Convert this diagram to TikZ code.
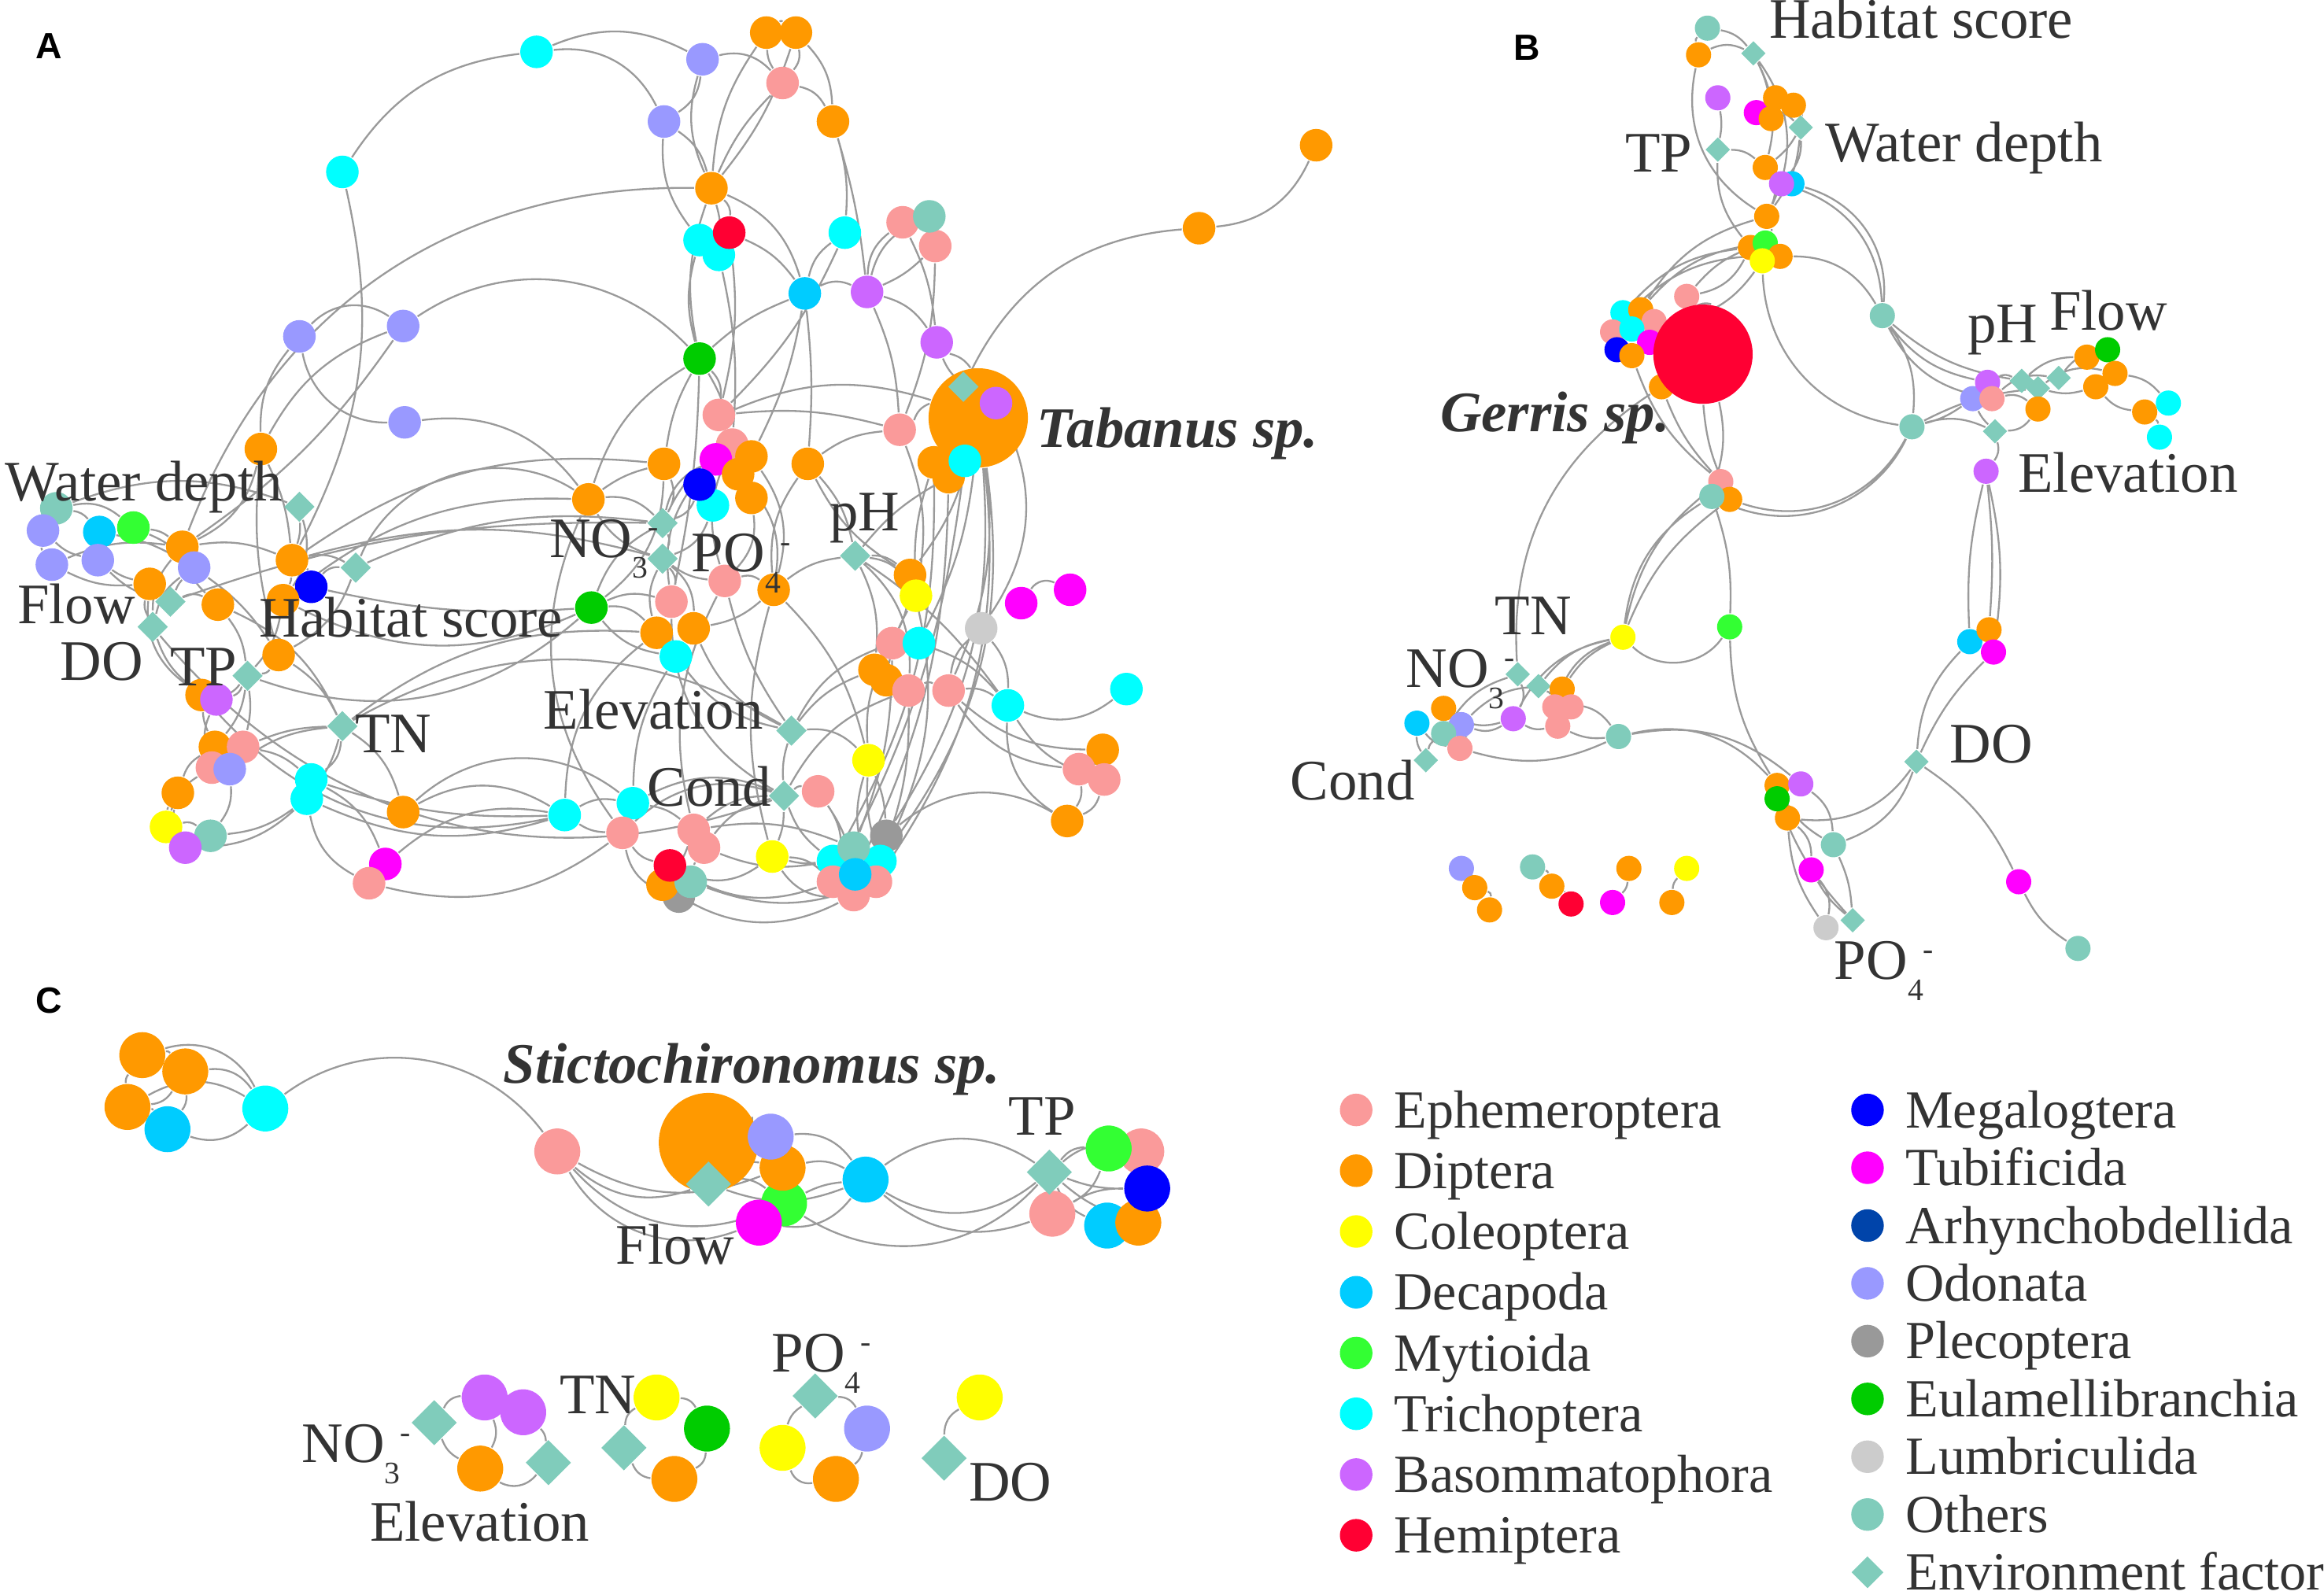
\documentclass[tikz,border=0pt]{standalone}
\usepackage{fontspec}
\setmainfont{Liberation Serif}
\setsansfont{Liberation Sans}
\usetikzlibrary{shapes.geometric,backgrounds}

% 颜色
\definecolor{eph}{HTML}{FA9A9A}
\definecolor{dip}{HTML}{FF9900}
\definecolor{col}{HTML}{FFFF00}
\definecolor{dec}{HTML}{00CCFF}
\definecolor{myt}{HTML}{33FF33}
\definecolor{tri}{HTML}{00FFFF}
\definecolor{bas}{HTML}{CC66FF}
\definecolor{hem}{HTML}{FF0033}
\definecolor{meg}{HTML}{0000FF}
\definecolor{tub}{HTML}{FF00FF}
\definecolor{arh}{HTML}{0044AA}
\definecolor{odo}{HTML}{9999FF}
\definecolor{ple}{HTML}{999999}
\definecolor{eul}{HTML}{00CC00}
\definecolor{lum}{HTML}{CCCCCC}
\definecolor{oth}{HTML}{80CCBB}
\definecolor{txt}{HTML}{333333}
\definecolor{lnk}{HTML}{9A9A9A}

% 离子标签
\newcommand{\chemion}[2]{#1\raisebox{-4pt}{\fontsize{6}{6}\selectfont #2}\raisebox{3.8pt}{\fontsize{6}{6}\selectfont -}}

\tikzset{
  spA/.style={circle,inner sep=0pt,minimum size=2.2mm},
  spB/.style={circle,inner sep=0pt,minimum size=1.7mm},
  spC/.style={circle,inner sep=0pt,minimum size=3.1mm},
  big/.style={circle,inner sep=0pt,minimum size=6.7mm},
  envA/.style={diamond,aspect=1,inner sep=0pt,minimum size=2.1mm,fill=oth},
  envB/.style={diamond,aspect=1,inner sep=0pt,minimum size=1.7mm,fill=oth},
  envC/.style={diamond,aspect=1,inner sep=0pt,minimum size=3.1mm,fill=oth},
  link/.style={draw=lnk,line width=0.35pt,bend left=25},
  lab/.style={text=txt,inner sep=0pt,anchor=base west,font=\fontsize{11}{13}\selectfont},
  taxon/.style={lab,font=\fontsize{11}{13}\selectfont\bfseries\itshape},
  legtext/.style={text=txt,inner sep=0pt,anchor=base west,font=\fontsize{10.3}{12}\selectfont},
  panel/.style={inner sep=0pt,font=\sffamily\bfseries\fontsize{7}{8}\selectfont},
}

\begin{document}
\begin{tikzpicture}[x=0.1mm,y=-0.1mm]
    \useasboundingbox (0,0) rectangle (1568,1076);

    % ---------------- A ----------------
    \node[panel] (pA) at (33,31) {A};
    % 上部
    \node[spA,fill=tri] (a1) at (362,35) {};
    \node[spA,fill=odo] (a2) at (474,40) {};
    \node[spA,fill=dip] (a3) at (517,22) {};
    \node[spA,fill=dip] (a4) at (537,22) {};
    \node[spA,fill=eph] (a5) at (528,56) {};
    \node[spA,fill=odo] (a6) at (448,82) {};
    \node[spA,fill=dip] (a7) at (562,82) {};
    \node[spA,fill=tri] (a8) at (231,116) {};
    \node[spA,fill=dip] (a9) at (480,127) {};
    \node[spA,fill=tri] (a10) at (472,162) {};
    \node[spA,fill=tri] (a12) at (485,172) {};
    \node[spA,fill=hem] (a11) at (492,157) {};
    \node[spA,fill=tri] (a13) at (570,157) {};
    \node[spA,fill=eph] (a14) at (609,150) {};
    \node[spA,fill=eph] (a16) at (631,166) {};
    \node[spA,fill=oth] (a15) at (627,146) {};
    \node[spA,fill=dec] (a17) at (543,198) {};
    \node[spA,fill=bas] (a18) at (585,197) {};
    \node[spA,fill=dip] (a19) at (888,98) {};
    \node[spA,fill=dip] (a20) at (809,154) {};
    \node[spA,fill=odo] (a21) at (202,227) {};
    \node[spA,fill=odo] (a22) at (272,220) {};
    \node[spA,fill=bas] (a23) at (632,231) {};
    \node[spA,fill=eul] (a24) at (472,242) {};
    \node[spA,fill=odo] (a25) at (273,285) {};
    \node[spA,fill=eph] (a30) at (485,280) {};
    \node[spA,fill=eph] (a31) at (607,290) {};
    \node[spA,fill=dip] (a32) at (176,303) {};
    % Tabanus
    \node[spA,fill=dip] (a43) at (630,312) {};
    \node[spA,fill=dip] (a44) at (640,322) {};
    \node[big,fill=dip] (a26) at (660,282) {};
    \node[envA] (a27) at (650,261) {};
    \node[spA,fill=bas] (a28) at (672,272) {};
    \node[spA,fill=tri] (a29) at (651,311) {};
    % 中部
    \node[spA,fill=eph] (a33) at (494,300) {};
    \node[spA,fill=tub] (a34) at (483,310) {};
    \node[spA,fill=dip] (a35) at (507,308) {};
    \node[spA,fill=dip] (a39) at (498,320) {};
    \node[spA,fill=dip] (a40) at (507,336) {};
    \node[spA,fill=dip] (a36) at (448,313) {};
    \node[spA,fill=dip] (a37) at (545,313) {};
    \node[spA,fill=tri] (a41) at (481,341) {};
    \node[spA,fill=meg] (a38) at (472,327) {};
    \node[spA,fill=dip] (a42) at (397,337) {};
    \node[envA] (a45) at (447,353) {};
    \node[envA] (a46) at (447,377) {};
    \node[spA,fill=eph] (a47) at (489,392) {};
    \node[spA,fill=dip] (a48) at (522,398) {};
    \node[envA] (a49) at (577,375) {};
    \node[spA,fill=eul] (a50) at (399,410) {};
    \node[spA,fill=eph] (a51) at (453,406) {};
    \node[spA,fill=dip] (a52) at (443,427) {};
    \node[spA,fill=dip] (a53) at (468,424) {};
    \node[spA,fill=tri] (a54) at (456,443) {};
    % 右部
    \node[spA,fill=dip] (a55) at (614,388) {};
    \node[spA,fill=col] (a56) at (618,402) {};
    \node[spA,fill=eph] (a57) at (602,434) {};
    \node[spA,fill=tri] (a58) at (620,434) {};
    \node[spA,fill=dip] (a59) at (590,452) {};
    \node[spA,fill=dip] (a60) at (598,459) {};
    \node[spA,fill=eph] (a61) at (613,466) {};
    \node[spA,fill=eph] (a62) at (640,466) {};
    \node[spA,fill=tri] (a63) at (680,476) {};
    \node[spA,fill=tri] (a64) at (760,465) {};
    \node[spA,fill=lum] (a65) at (662,424) {};
    \node[spA,fill=tub] (a66) at (689,407) {};
    \node[spA,fill=tub] (a67) at (722,398) {};
    \node[envA] (a68) at (534,493) {};
    \node[spA,fill=col] (a69) at (586,513) {};
    \node[spA,fill=dip] (a70) at (744,506) {};
    \node[spA,fill=eph] (a71) at (728,519) {};
    \node[spA,fill=eph] (a72) at (745,526) {};
    \node[spA,fill=dip] (a73) at (720,554) {};
    % 下部
    \node[envA] (a74) at (529,537) {};
    \node[spA,fill=eph] (a75) at (552,534) {};
    \node[spA,fill=tri] (a76) at (381,550) {};
    \node[spA,fill=tri] (a77) at (427,542) {};
    \node[spA,fill=eph] (a78) at (420,562) {};
    \node[spA,fill=eph] (a79) at (468,560) {};
    \node[spA,fill=eph] (a80) at (475,572) {};
    \node[spA,fill=ple] (a82) at (458,605) {};
    \node[spA,fill=dip] (a83) at (447,597) {};
    \node[spA,fill=oth] (a84) at (466,595) {};
    \node[spA,fill=hem] (a81) at (452,584) {};
    \node[spA,fill=col] (a85) at (521,578) {};
    \node[spA,fill=ple] (a86) at (598,564) {};
    \node[spA,fill=tri] (a87) at (562,581) {};
    \node[spA,fill=tri] (a88) at (594,581) {};
    \node[spA,fill=oth] (a89) at (576,572) {};
    \node[spA,fill=eph] (a90) at (562,595) {};
    \node[spA,fill=eph] (a91) at (591,595) {};
    \node[spA,fill=eph] (a92) at (576,604) {};
    \node[spA,fill=dec] (a93) at (577,590) {};
    % 左部
    \node[spA,fill=oth] (a94) at (38,343) {};
    \node[spA,fill=odo] (a95) at (29,358) {};
    \node[spA,fill=dec] (a96) at (67,359) {};
    \node[spA,fill=myt] (a97) at (90,356) {};
    \node[spA,fill=odo] (a98) at (35,381) {};
    \node[spA,fill=odo] (a99) at (66,378) {};
    \node[envA] (a100) at (202,342) {};
    \node[spA,fill=dip] (a101) at (123,369) {};
    \node[spA,fill=odo] (a102) at (131,383) {};
    \node[spA,fill=dip] (a103) at (197,378) {};
    \node[spA,fill=meg] (a104) at (210,396) {};
    \node[envA] (a105) at (240,383) {};
    \node[spA,fill=dip] (a106) at (101,394) {};
    \node[envA] (a107) at (115,406) {};
    \node[spA,fill=dip] (a108) at (147,408) {};
    \node[spA,fill=dip] (a109) at (191,405) {};
    \node[envA] (a110) at (103,423) {};
    \node[spA,fill=dip] (a111) at (188,442) {};
    \node[envA] (a112) at (167,456) {};
    \node[spA,fill=dip] (a113) at (136,469) {};
    \node[spA,fill=bas] (a114) at (146,472) {};
    \node[envA] (a115) at (231,490) {};
    \node[spA,fill=dip] (a116) at (145,504) {};
    \node[spA,fill=eph] (a117) at (164,504) {};
    \node[spA,fill=eph] (a118) at (143,518) {};
    \node[spA,fill=odo] (a119) at (155,519) {};
    \node[spA,fill=dip] (a120) at (120,535) {};
    \node[spA,fill=tri] (a121) at (210,526) {};
    \node[spA,fill=tri] (a122) at (207,539) {};
    \node[spA,fill=dip] (a123) at (272,548) {};
    \node[spA,fill=col] (a124) at (112,558) {};
    \node[spA,fill=oth] (a125) at (142,564) {};
    \node[spA,fill=bas] (a126) at (125,572) {};
    \node[spA,fill=tub] (a127) at (260,583) {};
    \node[spA,fill=eph] (a128) at (249,596) {};

    % A 标签
    \node[lab] (tA1) at (3,338) {Water depth};
    \node[lab] (tA2) at (11,421) {Flow};
    \node[lab] (tA3) at (40,459) {DO};
    \node[lab] (tA4) at (114,463) {TP};
    \node[lab] (tA5) at (174,430) {Habitat score};
    \node[lab] (tA6) at (239,508) {TN};
    \node[lab] (tA7) at (370,376) {\chemion{NO}{3}};
    \node[lab] (tA8) at (466,386) {\chemion{PO}{4}};
    \node[lab] (tA9) at (559,358) {pH};
    \node[lab] (tA10) at (366,492) {Elevation};
    \node[lab] (tA11) at (436,544) {Cond};
    \node[taxon] (tA12) at (699,302) {Tabanus sp.};

    % ---------------- B ----------------
    \node[panel] (pB) at (1030,32) {B};
    \node[spB,fill=oth] (b1) at (1152,19) {};
    \node[spB,fill=dip] (b2) at (1146,37) {};
    \node[envB] (b3) at (1183,36) {};
    \node[spB,fill=bas] (b4) at (1159,66) {};
    \node[spB,fill=tub] (b5) at (1185,76) {};
    \node[spB,fill=dip] (b6) at (1198,66) {};
    \node[spB,fill=dip] (b7) at (1210,71) {};
    \node[spB,fill=dip] (b8) at (1195,80) {};
    \node[envB] (b9) at (1215,86) {};
    \node[envB] (b10) at (1159,101) {};
    \node[spB,fill=dip] (b11) at (1191,113) {};
    \node[spB,fill=dec] (b13) at (1209,124) {};
    \node[spB,fill=bas] (b12) at (1202,124) {};
    \node[spB,fill=dip] (b14) at (1192,146) {};
    \node[spB,fill=dip] (b15) at (1181,167) {};
    \node[spB,fill=myt] (b16) at (1191,164) {};
    \node[spB,fill=dip] (b17) at (1201,173) {};
    \node[spB,fill=col] (b18) at (1189,176) {};
    \node[spB,fill=eph] (b19) at (1138,200) {};
    \node[spB,fill=tri] (b21) at (1095,211) {};
    \node[spB,fill=dip] (b22) at (1107,209) {};
    \node[spB,fill=eph] (b23) at (1116,217) {};
    \node[spB,fill=eph] (b24) at (1088,224) {};
    \node[spB,fill=tri] (b25) at (1101,222) {};
    \node[spB,fill=tub] (b26) at (1113,231) {};
    \node[spB,fill=meg] (b27) at (1091,236) {};
    \node[spB,fill=dip] (b28) at (1101,240) {};
    \node[spB,fill=dip] (b29) at (1121,261) {};
    \node[big,fill=hem] (b20) at (1149,239) {};
    \node[spB,fill=oth] (b30) at (1270,213) {};
    \node[spB,fill=oth] (b31) at (1290,288) {};
    \node[spB,fill=odo] (b32) at (1331,269) {};
    \node[spB,fill=bas] (b33) at (1341,258) {};
    \node[spB,fill=eph] (b34) at (1344,269) {};
    \node[envB] (b35) at (1364,257) {};
    \node[envB] (b36) at (1389,255) {};
    \node[envB] (b37) at (1375,262) {};
    \node[spB,fill=dip] (b38) at (1408,241) {};
    \node[spB,fill=eul] (b39) at (1422,236) {};
    \node[spB,fill=dip] (b40) at (1427,252) {};
    \node[spB,fill=dip] (b41) at (1414,261) {};
    \node[spB,fill=dip] (b42) at (1375,276) {};
    \node[envB] (b43) at (1346,291) {};
    \node[spB,fill=tri] (b44) at (1463,272) {};
    \node[spB,fill=dip] (b45) at (1447,278) {};
    \node[spB,fill=tri] (b46) at (1457,295) {};
    \node[spB,fill=bas] (b47) at (1340,318) {};
    \node[spB,fill=eph] (b48) at (1161,325) {};
    \node[spB,fill=dip] (b50) at (1167,337) {};
    \node[spB,fill=oth] (b49) at (1155,335) {};
    \node[spB,fill=col] (b51) at (1095,430) {};
    \node[spB,fill=myt] (b52) at (1167,423) {};
    \node[envB] (b53) at (1024,455) {};
    \node[envB] (b54) at (1038,463) {};
    \node[spB,fill=dip] (b55) at (1054,465) {};
    \node[spB,fill=eph] (b56) at (1049,477) {};
    \node[spB,fill=eph] (b57) at (1060,477) {};
    \node[spB,fill=eph] (b58) at (1051,490) {};
    \node[spB,fill=bas] (b59) at (1021,485) {};
    \node[spB,fill=dip] (b61) at (974,478) {};
    \node[spB,fill=dec] (b60) at (956,488) {};
    \node[spB,fill=odo] (b62) at (986,489) {};
    \node[spB,fill=oth] (b63) at (974,495) {};
    \node[spB,fill=eph] (b64) at (985,505) {};
    \node[envB] (b65) at (962,513) {};
    \node[spB,fill=oth] (b66) at (1092,497) {};
    \node[spB,fill=dec] (b67) at (1329,433) {};
    \node[spB,fill=dip] (b68) at (1342,425) {};
    \node[spB,fill=tub] (b69) at (1345,440) {};
    \node[envB] (b70) at (1293,514) {};
    \node[spB,fill=dip] (b71) at (1199,530) {};
    \node[spB,fill=dip] (b74) at (1206,552) {};
    \node[spB,fill=bas] (b72) at (1215,529) {};
    \node[spB,fill=eul] (b73) at (1199,539) {};
    \node[spB,fill=oth] (b75) at (1237,570) {};
    \node[spB,fill=tub] (b76) at (1222,587) {};
    \node[spB,fill=lum] (b77) at (1232,626) {};
    \node[envB] (b78) at (1250,621) {};
    \node[spB,fill=tub] (b79) at (1362,595) {};
    \node[spB,fill=oth] (b80) at (1402,640) {};
    % 孤立小组
    \node[spB,fill=odo] (b81) at (986,586) {};
    \node[spB,fill=dip] (b82) at (995,599) {};
    \node[spB,fill=dip] (b83) at (1005,614) {};
    \node[spB,fill=oth] (b84) at (1034,585) {};
    \node[spB,fill=dip] (b85) at (1047,598) {};
    \node[spB,fill=hem] (b86) at (1060,610) {};
    \node[spB,fill=dip] (b87) at (1099,586) {};
    \node[spB,fill=tub] (b88) at (1088,609) {};
    \node[spB,fill=col] (b89) at (1138,586) {};
    \node[spB,fill=dip] (b90) at (1128,609) {};

    % B 标签
    \node[lab] (tB1) at (1193,26) {Habitat score};
    \node[lab] (tB2) at (1231,109) {Water depth};
    \node[lab] (tB3) at (1096,116) {TP};
    \node[lab] (tB4) at (1327,231) {pH};
    \node[lab] (tB5) at (1382,223) {Flow};
    \node[taxon] (tB6) at (971,291) {Gerris sp.};
    \node[lab] (tB7) at (1361,332) {Elevation};
    \node[lab] (tB8) at (1008,428) {TN};
    \node[lab] (tB9) at (948,464) {\chemion{NO}{3}};
    \node[lab] (tB10) at (870,540) {Cond};
    \node[lab] (tB11) at (1315,515) {DO};
    \node[lab] (tB12) at (1237,661) {\chemion{PO}{4}};

    % ---------------- C ----------------
    \node[panel] (pC) at (33,675) {C};
    \node[spC,fill=dip] (c1) at (96,712) {};
    \node[spC,fill=dip] (c2) at (125,723) {};
    \node[spC,fill=dip] (c3) at (86,747) {};
    \node[spC,fill=dec] (c4) at (113,762) {};
    \node[spC,fill=tri] (c5) at (179,748) {};
    \node[spC,fill=eph] (c6) at (376,777) {};
    \node[big,fill=dip] (c7) at (478,771) {};
    \node[spC,fill=myt] (c10) at (529,812) {};
    \node[spC,fill=dip] (c9) at (528,788) {};
    \node[spC,fill=odo] (c8) at (520,767) {};
    \node[envC] (c12) at (478,799) {};
    \node[spC,fill=tub] (c11) at (512,825) {};
    \node[spC,fill=dec] (c13) at (584,796) {};
    \node[spC,fill=eph] (c16) at (770,777) {};
    \node[spC,fill=myt] (c15) at (748,775) {};
    \node[spC,fill=eph] (c18) at (710,819) {};
    \node[spC,fill=dec] (c19) at (747,827) {};
    \node[spC,fill=dip] (c20) at (768,825) {};
    \node[spC,fill=meg] (c17) at (774,802) {};
    \node[envC] (c14) at (708,791) {};
    % 下方小组
    \node[envC] (c21) at (293,960) {};
    \node[spC,fill=bas] (c22) at (327,943) {};
    \node[spC,fill=bas] (c23) at (353,953) {};
    \node[spC,fill=dip] (c24) at (324,991) {};
    \node[envC] (c25) at (370,987) {};
    \node[spC,fill=col] (c26) at (443,943) {};
    \node[spC,fill=eul] (c27) at (477,964) {};
    \node[envC] (c28) at (421,977) {};
    \node[spC,fill=dip] (c29) at (455,998) {};
    \node[envC] (c30) at (550,942) {};
    \node[spC,fill=odo] (c31) at (585,964) {};
    \node[spC,fill=col] (c32) at (528,977) {};
    \node[spC,fill=dip] (c33) at (564,998) {};
    \node[spC,fill=col] (c34) at (661,943) {};
    \node[envC] (c35) at (637,984) {};

    % C 标签
    \node[taxon] (tC1) at (339,731) {Stictochironomus sp.};
    \node[lab] (tC2) at (415,853) {Flow};
    \node[lab] (tC3) at (680,766) {TP};
    \node[lab] (tC4) at (203,987) {\chemion{NO}{3}};
    \node[lab] (tC5) at (249,1040) {Elevation};
    \node[lab] (tC6) at (377,954) {TN};
    \node[lab] (tC7) at (520,926) {\chemion{PO}{4}};
    \node[lab] (tC8) at (653,1013) {DO};

    % ---------------- 图例 ----------------
    \node[spA,fill=eph] (l1) at (915,749) {};  \node[legtext] (lt1) at (940,761) {Ephemeroptera};
    \node[spA,fill=dip] (l2) at (915,790) {};  \node[legtext] (lt2) at (940,802) {Diptera};
    \node[spA,fill=col] (l3) at (915,831) {};  \node[legtext] (lt3) at (940,843) {Coleoptera};
    \node[spA,fill=dec] (l4) at (915,872) {};  \node[legtext] (lt4) at (940,884) {Decapoda};
    \node[spA,fill=myt] (l5) at (915,913) {};  \node[legtext] (lt5) at (940,925) {Mytioida};
    \node[spA,fill=tri] (l6) at (915,954) {};  \node[legtext] (lt6) at (940,966) {Trichoptera};
    \node[spA,fill=bas] (l7) at (915,995) {};  \node[legtext] (lt7) at (940,1007) {Basommatophora};
    \node[spA,fill=hem] (l8) at (915,1036) {}; \node[legtext] (lt8) at (940,1048) {Hemiptera};
    \node[spA,fill=meg] (l9) at (1260,749) {};  \node[legtext] (lt9) at (1285,761) {Megalogtera};
    \node[spA,fill=tub] (l10) at (1260,788) {}; \node[legtext] (lt10) at (1285,800) {Tubificida};
    \node[spA,fill=arh] (l11) at (1260,827) {}; \node[legtext] (lt11) at (1285,839) {Arhynchobdellida};
    \node[spA,fill=odo] (l12) at (1260,866) {}; \node[legtext] (lt12) at (1285,878) {Odonata};
    \node[spA,fill=ple] (l13) at (1260,905) {}; \node[legtext] (lt13) at (1285,917) {Plecoptera};
    \node[spA,fill=eul] (l14) at (1260,944) {}; \node[legtext] (lt14) at (1285,956) {Eulamellibranchia};
    \node[spA,fill=lum] (l15) at (1260,983) {}; \node[legtext] (lt15) at (1285,995) {Lumbriculida};
    \node[spA,fill=oth] (l16) at (1260,1022) {}; \node[legtext] (lt16) at (1285,1034) {Others};
    \node[envA,minimum size=2.2mm] (l17) at (1260,1061) {}; \node[legtext] (lt17) at (1285,1073) {Environment factor};

    % ---------------- 连线 ----------------
    \begin{scope}[on background layer]
    % A 上部
    \draw[link] (a8) to (a1) (a1) to (a2) (a1) to[bend left=35] (a6) (a2) to (a6) (a2) to[bend left=30] (a5)
      (a10) to[bend left=20] (a6) (a6) to[bend left=20] (a9) (a2) to[bend right=20] (a9)
      (a3) to[bend left=40] (a4) (a9) to[bend left=15] (a3) (a4) to[bend left=10] (a9) (a3) to[bend right=15] (a5) (a4) to (a5)
      (a5) to (a7) (a4) to[bend left=20] (a7) (a5) to[bend right=10] (a9)
      (a7) to[bend left=10] (a13) (a7) to[bend left=5] (a18) (a9) to (a11) (a9) to[bend left=10] (a12)
      (a9) to[bend left=25] (a17) (a24) to[bend left=15] (a9) (a11) to[bend left=15] (a17) (a11) to[bend left=10] (a30)
      (a12) to[bend left=8] (a33) (a10) to[bend right=15] (a24) (a13) to[bend right=20] (a17) (a13) to[bend left=10] (a30)
      (a17) to (a18) (a17) to[bend right=10] (a24) (a17) to[bend left=8] (a35) (a17) to[bend left=5] (a37)
      (a18) to (a14) (a18) to (a15) (a18) to[bend right=10] (a16) (a18) to[bend left=20] (a23) (a18) to[bend left=10] (a31)
      (a14) to[bend left=10] (a23) (a16) to[bend left=10] (a31) (a23) to[bend left=20] (a26) (a23) to[bend right=10] (a27)
      (a19) to[bend left=30] (a20) (a27) to[bend left=30] (a20);
    % A 左上
    \draw[link] (a21) to[bend left=40] (a22) (a25) to[bend left=40] (a21) (a22) to[bend left=40] (a24)
      (a25) to[bend left=30] (a42) (a21) to[bend right=20] (a32) (a32) to[bend left=20] (a22) (a22) to[bend left=10] (a101)
      (a8) to[bend left=20] (a103) (a101) to[bend left=35] (a9) (a32) to[bend left=10] (a103) (a32) to (a101) (a32) to[bend right=10] (a111);
    % A 中部
    \draw[link] (a24) to[bend right=10] (a36) (a24) to (a30) (a24) to[bend left=10] (a33) (a24) to[bend right=20] (a42) (a24) to[bend left=5] (a51)
      (a36) to (a45) (a42) to[bend left=10] (a36) (a42) to (a45) (a42) to[bend right=20] (a46) (a45) to (a46)
      (a45) to[bend left=15] (a33) (a45) to (a34) (a46) to[bend right=15] (a47) (a46) to (a51) (a46) to[bend right=20] (a52) (a46) to (a53)
      (a47) to (a48) (a48) to[bend left=15] (a49) (a35) to (a48) (a37) to[bend right=20] (a48) (a49) to[bend left=20] (a55)
      (a49) to[bend right=15] (a37) (a49) to (a56) (a49) to[bend left=10] (a44) (a33) to[bend right=20] (a47) (a34) to[bend right=25] (a51)
      (a37) to[bend left=15] (a31) (a31) to (a26) (a30) to[bend left=10] (a31) (a38) to (a45) (a39) to (a48) (a40) to (a47) (a41) to (a46)
      (a50) to (a52) (a50) to[bend left=20] (a51) (a50) to[bend right=20] (a54) (a53) to[bend right=15] (a48) (a54) to[bend right=20] (a68)
      (a54) to[bend right=15] (a77) (a52) to[bend right=25] (a76) (a51) to[bend right=30] (a74) (a42) to[bend right=30] (a78)
      (a50) to[bend left=20] (a45) (a36) to[bend left=25] (a50);
    % A Elevation, Cond
    \draw[link] (a68) to (a69) (a68) to[bend left=15] (a59) (a68) to[bend right=10] (a74) (a68) to[bend left=20] (a57) (a47) to[bend right=10] (a68)
      (a53) to[bend right=20] (a68) (a74) to (a75) (a74) to[bend right=20] (a79) (a74) to[bend left=10] (a85) (a74) to[bend right=15] (a87)
      (a74) to[bend left=20] (a61) (a77) to[bend left=25] (a74) (a78) to[bend left=30] (a74) (a80) to[bend left=20] (a74)
      (a69) to[bend left=10] (a86) (a69) to[bend right=10] (a88) (a69) to[bend right=20] (a91) (a69) to[bend left=15] (a57)
      (a75) to (a90) (a75) to[bend left=10] (a93) (a85) to[bend right=10] (a87) (a85) to[bend left=20] (a90) (a85) to[bend left=30] (a81)
      (a76) to[bend left=20] (a77) (a76) to[bend right=15] (a78) (a77) to[bend left=15] (a79) (a78) to[bend right=20] (a81)
      (a79) to[bend left=10] (a83) (a80) to[bend right=10] (a84) (a81) to[bend left=25] (a84) (a78) to[bend right=30] (a82)
      (a86) to (a88) (a86) to[bend left=35] (a73) (a48) to[bend right=15] (a85) (a48) to[bend left=15] (a69) (a47) to[bend right=20] (a79)
      (a85) to[bend right=30] (a92) (a87) to[bend right=20] (a90) (a88) to[bend left=20] (a91)
      (a81) to[bend right=25] (a90) (a83) to[bend right=30] (a92) (a79) to[bend left=15] (a89) (a84) to[bend right=20] (a91)
      (a80) to[bend right=15] (a87) (a57) to[bend left=10] (a89) (a61) to[bend left=10] (a88) (a55) to[bend left=20] (a88);
    % A 右部
    \draw[link] (a55) to[bend right=10] (a26) (a56) to[bend left=10] (a43) (a57) to (a58) (a58) to[bend left=15] (a63) (a57) to (a59)
      (a59) to (a61) (a60) to[bend right=15] (a61) (a61) to (a62) (a62) to[bend left=20] (a63) (a63) to[bend right=30] (a64)
      (a62) to[bend right=20] (a70) (a62) to[bend right=25] (a71) (a63) to[bend right=20] (a72) (a63) to[bend right=30] (a73)
      (a70) to[bend left=20] (a71) (a71) to[bend left=20] (a73) (a72) to[bend left=25] (a73) (a65) to[bend left=20] (a63) (a65) to[bend right=20] (a62)
      (a66) to[bend left=40] (a67) (a26) to[bend left=10] (a58) (a26) to[bend left=15] (a62) (a26) to[bend left=20] (a91)
      (a26) to[bend left=22] (a88) (a26) to[bend left=18] (a86) (a43) to[bend left=15] (a87) (a44) to[bend left=12] (a93)
      (a29) to[bend left=10] (a90) (a49) to[bend left=15] (a59) (a49) to[bend left=25] (a61) (a49) to[bend left=10] (a63)
      (a55) to[bend left=10] (a57) (a56) to[bend right=10] (a60) (a28) to[bend left=30] (a65) (a31) to[bend left=15] (a56)
      (a37) to[bend right=15] (a55) (a30) to[bend left=20] (a26);
    % A 左部
    \draw[link] (a94) to[bend left=20] (a95) (a94) to[bend left=20] (a96) (a94) to[bend left=25] (a97) (a94) to[bend left=20] (a100)
      (a95) to[bend right=20] (a98) (a95) to[bend right=15] (a99) (a96) to (a99) (a97) to[bend left=15] (a101) (a97) to[bend left=10] (a102)
      (a98) to[bend right=15] (a106) (a99) to[bend right=15] (a107) (a96) to[bend left=10] (a102) (a98) to[bend left=15] (a101)
      (a99) to[bend right=10] (a106) (a100) to[bend left=10] (a103) (a100) to[bend left=25] (a109) (a101) to[bend left=15] (a103)
      (a101) to[bend right=15] (a108) (a102) to[bend right=10] (a107) (a102) to[bend right=20] (a110) (a103) to (a104) (a103) to[bend left=20] (a105)
      (a104) to (a105) (a106) to[bend right=20] (a110) (a107) to (a108) (a108) to[bend left=15] (a112) (a109) to[bend left=15] (a112)
      (a110) to[bend right=15] (a113) (a111) to (a112) (a111) to[bend right=20] (a105) (a112) to (a113) (a112) to (a114) (a112) to[bend left=15] (a116)
      (a112) to[bend left=10] (a117) (a113) to[bend right=10] (a116) (a114) to[bend right=20] (a118) (a115) to[bend right=10] (a117)
      (a115) to[bend right=15] (a119) (a115) to (a121) (a115) to[bend left=10] (a122) (a115) to[bend left=20] (a123) (a108) to[bend left=20] (a115)
      (a111) to[bend left=15] (a115) (a116) to[bend right=20] (a120) (a117) to[bend left=15] (a121) (a118) to[bend right=20] (a124)
      (a119) to[bend left=20] (a125) (a120) to[bend right=15] (a124) (a120) to[bend right=20] (a126) (a124) to (a125) (a125) to[bend right=15] (a122)
      (a126) to[bend right=20] (a122) (a121) to[bend left=20] (a127) (a122) to[bend right=25] (a128) (a127) to[bend left=30] (a128)
      (a101) to[bend right=20] (a110) (a106) to[bend right=30] (a113) (a102) to[bend left=10] (a111) (a103) to[bend left=10] (a109);
    % A 跨区
    \draw[link] (a105) to[bend left=50] (a42) (a104) to[bend right=8] (a50) (a103) to[bend left=15] (a46) (a109) to[bend right=25] (a50)
      (a112) to[bend right=30] (a50) (a123) to[bend left=40] (a77) (a122) to[bend right=20] (a76) (a127) to[bend left=25] (a76)
      (a115) to[bend left=30] (a68) (a115) to[bend left=20] (a52) (a128) to[bend right=25] (a78) (a107) to[bend left=10] (a45)
      (a103) to[bend left=20] (a36) (a110) to[bend right=35] (a74) (a113) to[bend right=30] (a76) (a105) to[bend left=15] (a45)
      (a109) to[bend left=20] (a42) (a121) to[bend right=10] (a76) (a123) to[bend left=30] (a76);

    % B
    \draw[link] (b1) to[bend left=20] (b3) (b2) to (b3) (b2) to[bend left=30] (b1) (b14) to[bend left=35] (b2) (b3) to[bend left=10] (b8) (b3) to[bend left=20] (b11) (b3) to[bend left=30] (b14)
      (b4) to[bend left=10] (b10) (b5) to (b9) (b6) to (b9) (b7) to (b9) (b9) to[bend left=15] (b14) (b9) to[bend left=10] (b11) (b9) to[bend left=20] (b12)
      (b10) to[bend left=20] (b11) (b15) to[bend left=20] (b10) (b11) to (b14) (b12) to[bend left=35] (b30) (b13) to[bend left=40] (b30) (b14) to (b16)
      (b15) to (b19) (b16) to[bend right=15] (b19) (b17) to[bend left=30] (b30) (b18) to[bend right=40] (b31) (b19) to (b20)
      (b21) to[bend left=20] (b15) (b22) to[bend left=20] (b16) (b24) to[bend left=25] (b17) (b18) to (b23) (b14) to[bend right=20] (b22)
      (b29) to[bend right=10] (b48) (b20) to[bend left=15] (b49) (b28) to[bend right=15] (b48) (b20) to[bend right=10] (b50)
      (b53) to[bend left=30] (b29);
    \draw[link] (b30) to[bend right=20] (b33) (b30) to[bend right=25] (b34) (b30) to[bend right=15] (b35) (b30) to[bend left=20] (b31) (b31) to[bend right=10] (b32) (b31) to[bend left=10] (b37) (b31) to[bend left=20] (b43)
      (b50) to[bend right=40] (b31) (b49) to[bend right=45] (b31) (b33) to (b35) (b34) to (b36) (b35) to[bend left=20] (b38) (b36) to[bend left=20] (b39) (b37) to (b40)
      (b37) to[bend right=15] (b41) (b41) to[bend right=20] (b45) (b40) to[bend left=20] (b44) (b45) to (b46) (b42) to (b43) (b43) to (b47) (b34) to (b42) (b32) to[bend right=10] (b43)
      (b47) to[bend left=5] (b68) (b47) to[bend right=8] (b67) (b47) to[bend left=10] (b69);
    \draw[link] (b49) to[bend left=10] (b52) (b50) to[bend right=15] (b51) (b48) to[bend right=20] (b51) (b49) to[bend right=25] (b51)
      (b51) to[bend right=20] (b54) (b51) to[bend right=15] (b55) (b51) to[bend right=25] (b56) (b51) to[bend right=25] (b59) (b52) to[bend right=15] (b71) (b51) to[bend right=50] (b52)
      (b53) to (b59) (b54) to[bend left=20] (b56) (b55) to[bend left=20] (b57) (b59) to (b61) (b59) to (b62) (b60) to[bend right=20] (b64) (b61) to (b63) (b62) to (b64)
      (b63) to[bend right=20] (b65) (b60) to[bend right=15] (b65) (b64) to[bend right=20] (b66) (b56) to[bend left=30] (b66) (b58) to[bend right=15] (b66)
      (b59) to[bend right=20] (b58) (b62) to[bend left=25] (b55) (b53) to[bend right=20] (b63)
      (b66) to[bend left=30] (b71) (b66) to[bend left=25] (b72) (b67) to[bend right=20] (b70) (b69) to[bend right=10] (b70) (b70) to[bend left=25] (b75) (b70) to[bend left=30] (b74)
      (b70) to[bend left=15] (b79) (b79) to[bend right=15] (b80)
      (b71) to[bend right=15] (b75) (b72) to (b75) (b74) to (b76) (b75) to[bend left=10] (b78) (b76) to[bend right=10] (b78) (b76) to (b77) (b74) to[bend right=15] (b77) (b73) to[bend right=10] (b78)
      (b81) to[bend left=20] (b82) (b82) to[bend left=40] (b83) (b84) to[bend left=30] (b85) (b85) to[bend left=20] (b86) (b87) to[bend left=20] (b88) (b89) to[bend right=20] (b90);

    % C
    \draw[link] (c1) to[bend left=30] (c2) (c2) to[bend left=20] (c4) (c3) to (c4) (c1) to[bend right=20] (c3) (c1) to[bend left=40] (c5) (c2) to[bend left=30] (c5)
      (c3) to[bend left=30] (c5) (c4) to[bend right=30] (c5) (c2) to (c3)
      (c5) to[bend left=45] (c6) (c6) to[bend right=30] (c12) (c6) to[bend right=35] (c10) (c6) to[bend right=25] (c9) (c6) to[bend right=40] (c11)
      (c7) to (c8) (c8) to[bend left=30] (c13) (c9) to[bend left=20] (c13) (c10) to[bend left=10] (c13) (c12) to[bend right=20] (c13) (c11) to[bend right=30] (c13)
      (c12) to (c10) (c8) to[bend left=20] (c9) (c12) to (c9)
      (c13) to[bend left=35] (c14) (c13) to[bend right=35] (c14) (c13) to[bend right=30] (c18) (c10) to[bend right=40] (c14)
      (c14) to (c15) (c14) to (c16) (c14) to[bend right=10] (c17) (c14) to[bend right=20] (c19) (c14) to[bend right=10] (c20) (c18) to[bend right=20] (c15)
      (c18) to[bend left=15] (c17) (c15) to[bend left=20] (c17)
      (c21) to[bend left=30] (c22) (c21) to[bend right=20] (c24) (c22) to[bend left=20] (c23) (c23) to[bend left=20] (c25) (c24) to[bend right=40] (c25) (c22) to (c24)
      (c26) to[bend left=30] (c27) (c28) to[bend left=30] (c26) (c27) to[bend left=30] (c29) (c28) to[bend right=30] (c29)
      (c30) to[bend left=30] (c31) (c30) to[bend right=20] (c32) (c31) to[bend left=20] (c33) (c32) to[bend right=40] (c33)
      (c35) to[bend left=30] (c34);
    \end{scope}
\end{tikzpicture}
\end{document}
